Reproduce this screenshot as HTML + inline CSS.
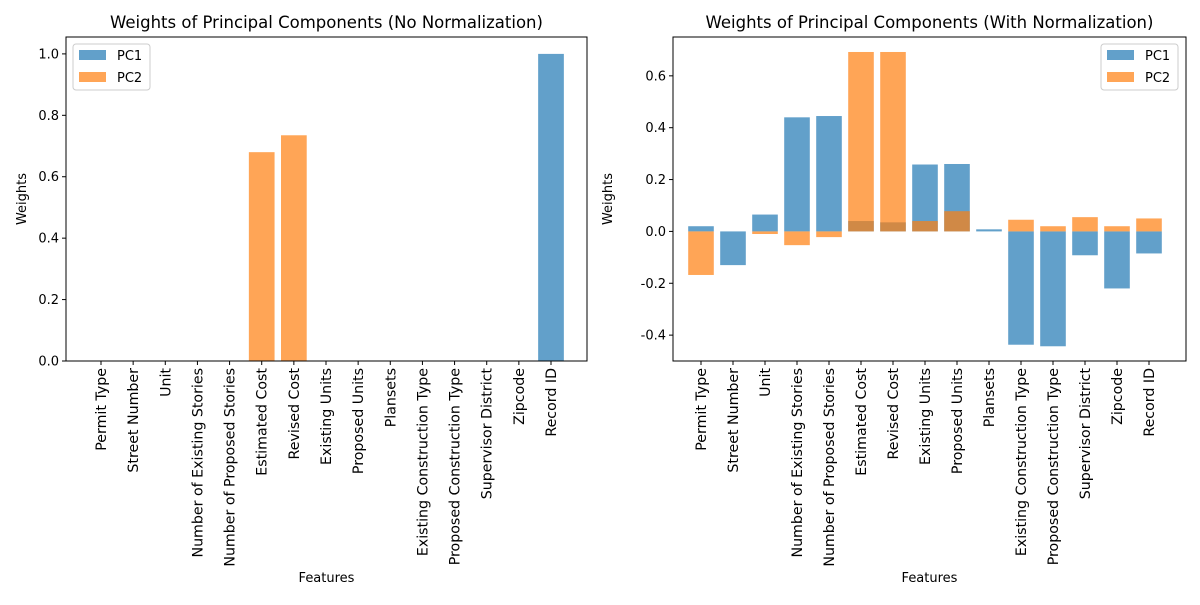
<!DOCTYPE html>
<html><head><meta charset="utf-8"><style>
body{margin:0;background:#fff}
svg text{font-family:"DejaVu Sans","Liberation Sans",sans-serif;fill:#000}
</style></head><body>
<svg id="c" width="1200" height="600" xmlns="http://www.w3.org/2000/svg"></svg>
<script>
const categories=["Permit Type","Street Number","Unit","Number of Existing Stories","Number of Proposed Stories","Estimated Cost","Revised Cost","Existing Units","Proposed Units","Plansets","Existing Construction Type","Proposed Construction Type","Supervisor District","Zipcode","Record ID"];
const leftPC1=[0,0,0,0,0,0,0,0,0,0,0,0,0,0,1.0];
const leftPC2=[0,0,0,0,0,0.68,0.735,0,0,0,0,0,0,0,0];
const rightPC1=[0.02,-0.13,0.065,0.44,0.445,0.04,0.035,0.258,0.26,0.008,-0.437,-0.443,-0.092,-0.22,-0.085];
const rightPC2=[-0.168,0,-0.01,-0.053,-0.022,0.692,0.692,0.04,0.078,0,0.045,0.02,0.055,0.02,0.05];
const leftTicks=[0,0.2,0.4,0.6,0.8,1.0];
const rightTicks=[-0.4,-0.2,0,0.2,0.4,0.6];
const NS="http://www.w3.org/2000/svg";
const svg=document.getElementById('c');
function mk(t,a,p){const e=document.createElementNS(NS,t);for(const k in a)e.setAttribute(k,a[k]);(p||svg).appendChild(e);return e;}
function panel(cfg){
  const g=mk('g',{});
  
  
  const {x0,x1,yT,yB,ymin,ymax}=cfg;
  const n=categories.length;
  const xc=i=>cfg.c0+i*(cfg.cN-cfg.c0)/(n-1);
  const sp=(cfg.cN-cfg.c0)/(n-1), bw=sp*0.8;
  const y=v=>yB-(v-ymin)/(ymax-ymin)*(yB-yT);
  [[cfg.pc1,'#1f77b4','pc1'],[cfg.pc2,'#ff7f0e','pc2']].forEach(([arr,col,s])=>{
    arr.forEach((v,i)=>{
      const r=mk('rect',{x:xc(i)-bw/2,y:Math.min(y(v),y(0)),width:bw,height:Math.abs(y(v)-y(0)),fill:col,'fill-opacity':0.7},g);
      
      
    });
  });
  mk('rect',{x:x0,y:yT,width:x1-x0,height:yB-yT,fill:'none',stroke:'#000','stroke-width':1},g);
  cfg.ticks.forEach(t=>{
    const yy=y(t);
    mk('line',{x1:x0-4,x2:x0,y1:yy,y2:yy,stroke:'#000'},g);
    const tx=mk('text',{x:x0-7,y:yy+4.5,'text-anchor':'end','font-size':13},g);
    tx.textContent=t.toFixed(1);
    
    
  });
  categories.forEach((c,i)=>{
    const xx=xc(i);
    mk('line',{x1:xx,x2:xx,y1:yB,y2:yB+4,stroke:'#000'},g);
    const tx=mk('text',{x:0,y:0,'text-anchor':'end','font-size':14.2,transform:`translate(${xx+5},${yB+7}) rotate(-90)`},g);
    tx.textContent=c;
    
    
  });
  const ti=mk('text',{x:(x0+x1)/2,y:28,'text-anchor':'middle','font-size':16.5},g);
  ti.textContent=cfg.title;
  
  
  const xl=mk('text',{x:(x0+x1)/2,y:582,'text-anchor':'middle','font-size':13},g);
  xl.textContent='Features';
  
  
  const yl=mk('text',{x:0,y:0,'text-anchor':'middle','font-size':13,transform:`translate(${cfg.ylx},${(yT+yB)/2}) rotate(-90)`},g);
  yl.textContent='Weights';
  
  
  const lg=mk('g',{},g);
  
  
  const lx=cfg.lx;
  mk('rect',{x:lx,y:44,width:77,height:46,rx:3,fill:'#fff','fill-opacity':0.8,stroke:'#ccc'},lg);
  [['PC1','#1f77b4',50],['PC2','#ff7f0e',72]].forEach(([l,col,yy])=>{
    mk('rect',{x:lx+6,y:yy,width:27,height:10,fill:col,'fill-opacity':0.7},lg);
    const t=mk('text',{x:lx+44,y:yy+10,'font-size':13},lg);
    t.textContent=l;
    
    
  });
}
panel({name:'left-chart',x0:66,x1:587,yT:37,yB:361,ymin:0,ymax:1.055,c0:101,cN:551,pc1:leftPC1,pc2:leftPC2,ticks:leftTicks,title:'Weights of Principal Components (No Normalization)',ylx:26,lx:73});
panel({name:'right-chart',x0:673,x1:1186,yT:37,yB:361,ymin:-0.4998,ymax:0.7498,c0:701,cN:1149,pc1:rightPC1,pc2:rightPC2,ticks:rightTicks,title:'Weights of Principal Components (With Normalization)',ylx:612,lx:1101});
</script>
</body></html>
